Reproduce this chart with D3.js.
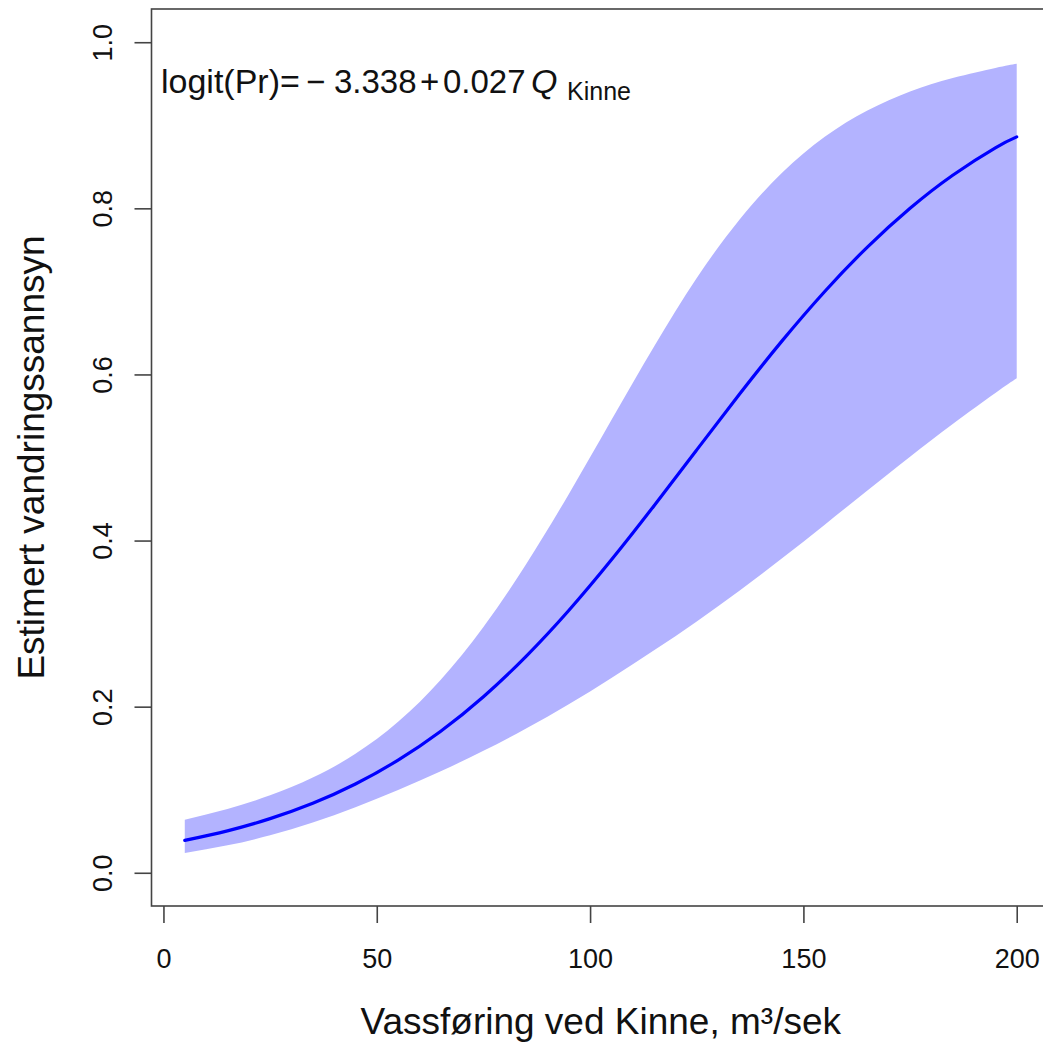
<!DOCTYPE html>
<html>
<head>
<meta charset="utf-8">
<script src="https://cdn.jsdelivr.net/npm/d3@7"></script>
<style>
  html, body { margin: 0; padding: 0; background: #fff; }
  svg { display: block; }
  text { font-family: "Liberation Sans", Arial, Helvetica, sans-serif; fill: #111; }
</style>
</head>
<body>
<svg id="chart" width="1043" height="1043"></svg>
<script>
// ---- data ----
const flow = [5, 15, 25, 35, 45, 55, 65, 75, 85, 95, 105, 115, 125, 135, 145, 155, 165, 175, 185, 195, 200];
const fitted = [0.039, 0.0505, 0.0652, 0.0837, 0.1069, 0.1356, 0.1704, 0.2120, 0.2606, 0.3158, 0.3768, 0.4420, 0.5092, 0.5762, 0.6404, 0.6999, 0.7534, 0.8001, 0.8399, 0.8729, 0.8860];
const upper = [0.0638, 0.0768, 0.0932, 0.1146, 0.1432, 0.1817, 0.2324, 0.2960, 0.3715, 0.4559, 0.5451, 0.6336, 0.7160, 0.7864, 0.8428, 0.8861, 0.9178, 0.9408, 0.9570, 0.9691, 0.9741];
const lower = [0.0237, 0.0330, 0.0452, 0.0606, 0.0789, 0.0997, 0.1223, 0.1468, 0.1736, 0.2028, 0.2345, 0.2678, 0.3026, 0.3396, 0.3787, 0.4191, 0.4604, 0.5010, 0.5403, 0.5777, 0.5953];
const xTicks = [0, 50, 100, 150, 200];
const yTicks = [0.0, 0.2, 0.4, 0.6, 0.8, 1.0];
const xTitle = "Vassføring ved Kinne, m³/sek";
const yTitle = "Estimert vandringssannsyn";

(function () {
// ---- layout ----
const plotL = 151.5, plotR = 1050, plotT = 9, plotB = 906;
const svg = d3.select("#chart");

const x = d3.scaleLinear().domain([-2.8, 207.8]).range([plotL, plotR]);
const y = d3.scaleLinear().domain([-0.04, 1.04]).range([plotB, plotT]);

const rows = flow.map((q, i) => ({ q, fit: fitted[i], lo: lower[i], hi: upper[i] }));
const curve = d3.curveNatural;

// confidence band
svg.append("path")
  .datum(rows)
  .attr("fill", "#b3b3ff")
  .attr("stroke", "none")
  .attr("d", d3.area()
    .x(d => x(d.q))
    .y0(d => y(d.lo))
    .y1(d => y(d.hi))
    .curve(curve));

// fitted line
svg.append("path")
  .datum(rows)
  .attr("fill", "none")
  .attr("stroke", "#0000ff")
  .attr("stroke-width", 3.2)
  .attr("stroke-linecap", "round")
  .attr("d", d3.line()
    .x(d => x(d.q))
    .y(d => y(d.fit))
    .curve(curve));

// box
svg.append("rect")
  .attr("x", plotL).attr("y", plotT)
  .attr("width", plotR - plotL).attr("height", plotB - plotT)
  .attr("fill", "none")
  .attr("stroke", "#444")
  .attr("stroke-width", 1.6);

// x axis
const gx = svg.append("g")
  .attr("transform", `translate(0,${plotB})`)
  .call(d3.axisBottom(x).tickValues(xTicks).tickSize(17).tickFormat(d3.format("d")));
gx.select(".domain").remove();
gx.selectAll(".tick line").attr("stroke", "#444").attr("stroke-width", 1.6);
gx.selectAll(".tick text")
  .attr("y", 62).attr("dy", 0)
  .style("font-size", "27px")
  .style("font-family", "'Liberation Sans', Arial, sans-serif")
  .attr("fill", "#111");

// y axis
const gy = svg.append("g")
  .attr("transform", `translate(${plotL},0)`)
  .call(d3.axisLeft(y).tickValues(yTicks).tickSize(17).tickFormat(d3.format(".1f")));
gy.select(".domain").remove();
gy.selectAll(".tick line").attr("stroke", "#444").attr("stroke-width", 1.6);
gy.selectAll(".tick text")
  .attr("x", 0).attr("dy", 0)
  .attr("text-anchor", "middle")
  .attr("transform", "translate(-39.5,0) rotate(-90)")
  .style("font-size", "27px")
  .style("font-family", "'Liberation Sans', Arial, sans-serif")
  .attr("fill", "#111");

// axis titles
svg.append("text")
  .attr("x", (plotL + plotR) / 2).attr("y", 1034)
  .attr("text-anchor", "middle")
  .style("font-size", "37px")
  .text(xTitle);

svg.append("text")
  .attr("transform", `translate(43.5,${(plotT + plotB) / 2}) rotate(-90)`)
  .attr("text-anchor", "middle")
  .style("font-size", "37px")
  .text(yTitle);

// equation (plotmath-like)
const eq = svg.append("text").attr("y", 93).style("font-size", "33px");
eq.append("tspan").attr("x", 161).style("font-size", "34px").text("logit(Pr)=");
eq.append("tspan").attr("x", 306).text("\u2212");
eq.append("tspan").attr("x", 334).text("3.338");
eq.append("tspan").attr("x", 420).text("+");
eq.append("tspan").attr("x", 443).text("0.027");
eq.append("tspan").attr("x", 531).style("font-style", "italic").style("font-size", "34px").text("Q");
eq.append("tspan").attr("x", 567).attr("y", 100).style("font-size", "25px").text("Kinne");
})();
</script>
</body>
</html>
